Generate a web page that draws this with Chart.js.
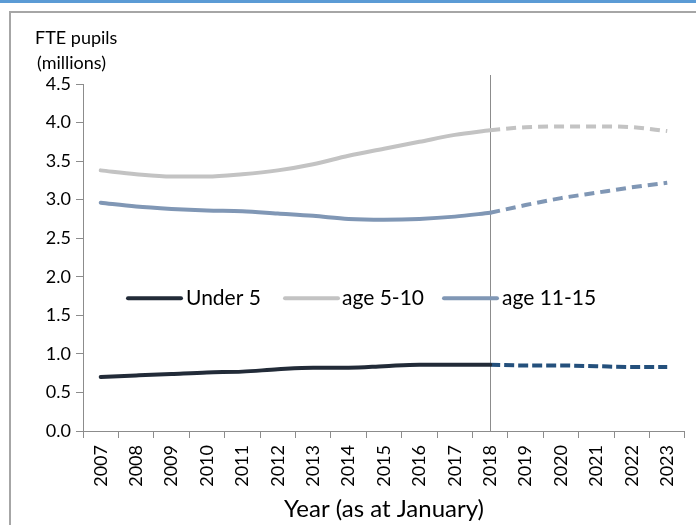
<!DOCTYPE html>
<html><head><meta charset="utf-8">
<script src="https://cdn.jsdelivr.net/npm/chart.js@4"></script>
<style>
html,body{margin:0;padding:0;background:#fff;width:696px;height:525px;overflow:hidden;}
#topbar{position:absolute;left:0;top:0;width:696px;height:3px;background:#5b9bd5;}
#frame{position:absolute;left:9px;top:11px;width:800px;height:600px;border-left:2px solid #a6a6a6;border-top:2px solid #a6a6a6;}
#wrap{position:absolute;left:0;top:0;width:696px;height:525px;}
</style></head>
<body>
<div id="topbar"></div>
<div id="frame"></div>
<div id="wrap"><canvas id="c" width="696" height="525"></canvas></div>
<script>
const years = ['2007','2008','2009','2010','2011','2012','2013','2014','2015','2016','2017','2018','2019','2020','2021','2022','2023'];
const under5 = [0.70,0.72,0.74,0.76,0.77,0.80,0.82,0.82,0.84,0.86,0.86,0.86,0.85,0.85,0.84,0.83,0.83];
const age5to10 = [3.38,3.33,3.30,3.30,3.33,3.38,3.46,3.57,3.66,3.75,3.84,3.90,3.94,3.95,3.95,3.94,3.89];
const age11to15 = [2.96,2.91,2.88,2.86,2.85,2.82,2.79,2.75,2.74,2.75,2.78,2.83,2.93,3.02,3.09,3.16,3.22];
const lastActualIndex = 11; // 2018
const seriesNames = ['Under 5','age 5-10','age 11-15'];
const yTicks = [0,0.5,1,1.5,2,2.5,3,3.5,4,4.5];

const FONT = 'Lato, "Open Sans", sans-serif';
const solidColors = ['#222b38','#c3c3c3','#8097b5'];
const dashColors = ['#24507c','#c3c3c3','#8097b5'];
const dashes = [[10,4],[10,6],[10,6]];
const allSeries = [under5, age5to10, age11to15];

function part(arr, actual){
  return arr.map((v,i)=> actual ? (i<=lastActualIndex? v : null) : (i>=lastActualIndex? v : null));
}
const datasets = [];
allSeries.forEach((s,k)=>{
  datasets.push({label:seriesNames[k], data:part(s,true), borderColor:solidColors[k], borderWidth:4,
    pointRadius:0, cubicInterpolationMode:'monotone', fill:false, spanGaps:false, borderCapStyle:'round'});
});
allSeries.forEach((s,k)=>{
  datasets.push({label:seriesNames[k]+' (projected)', data:part(s,false), borderColor:dashColors[k], borderWidth:4,
    borderDash:dashes[k], pointRadius:0, cubicInterpolationMode:'monotone', fill:false, spanGaps:false});
});

const overlay = {
  id:'overlay',
  beforeDatasetsDraw(chart){
    const ctx = chart.ctx, x = chart.scales.x;
    const px = Math.round(x.getPixelForValue(lastActualIndex)) + 0.5;
    ctx.save();
    ctx.strokeStyle = '#8c8c8c'; ctx.lineWidth = 1;
    ctx.beginPath(); ctx.moveTo(px, chart.chartArea.top - 9); ctx.lineTo(px, chart.chartArea.bottom); ctx.stroke();
    ctx.restore();
  },
  afterDraw(chart){
    const ctx = chart.ctx, y = chart.scales.y;
    ctx.save();
    ctx.fillStyle = '#000';
    ctx.font = '18px ' + FONT;
    ctx.textBaseline = 'middle';
    ctx.textAlign = 'left';
    ctx.fillText('FTE pupils', 35, 38);
    ctx.fillText('(millions)', 37, 63);
    // legend
    const ly = y.getPixelForValue(1.72);
    const items = [{x:128,tx:186},{x:285,tx:342},{x:444,tx:502}];
    ctx.font = '21px ' + FONT;
    items.forEach((it,k)=>{
      ctx.strokeStyle = solidColors[k]; ctx.lineWidth = 4; ctx.lineCap = 'round';
      ctx.beginPath(); ctx.moveTo(it.x, ly); ctx.lineTo(it.x+53, ly); ctx.stroke();
      ctx.fillText(seriesNames[k], it.tx, ly);
    });
    ctx.restore();
  }
};

new Chart(document.getElementById('c'), {
  type:'line',
  data:{labels:years, datasets},
  options:{
    responsive:false, animation:false,
    layout:{padding:{left:0,top:84,right:6,bottom:0}},
    plugins:{legend:{display:false}, tooltip:{enabled:false}, title:{display:false}},
    scales:{
      x:{
        offset:true,
        grid:{offset:true, drawOnChartArea:false, drawTicks:true, tickLength:7, color:'#8c8c8c'},
        border:{color:'#8c8c8c', width:1},
        ticks:{color:'#000', font:{family:FONT,size:18}, maxRotation:90, minRotation:90, autoSkip:false, padding:7},
        title:{display:true, text:'Year (as at January)', color:'#000', font:{family:FONT,size:24}, padding:{top:0,bottom:1}},
        afterFit(s){ s.height = 94; }
      },
      y:{
        min:0, max:4.5,
        afterBuildTicks(s){ s.ticks = yTicks.map(v=>({value:v})); },
        grid:{drawOnChartArea:false, drawTicks:true, tickLength:7, color:'#8c8c8c'},
        border:{color:'#8c8c8c', width:1},
        ticks:{color:'#000', font:{family:FONT,size:18}, padding:5, callback:v=>v.toFixed(1)},
        afterFit(s){ s.width = 83; }
      }
    }
  },
  plugins:[overlay]
});
</script>
</body></html>
